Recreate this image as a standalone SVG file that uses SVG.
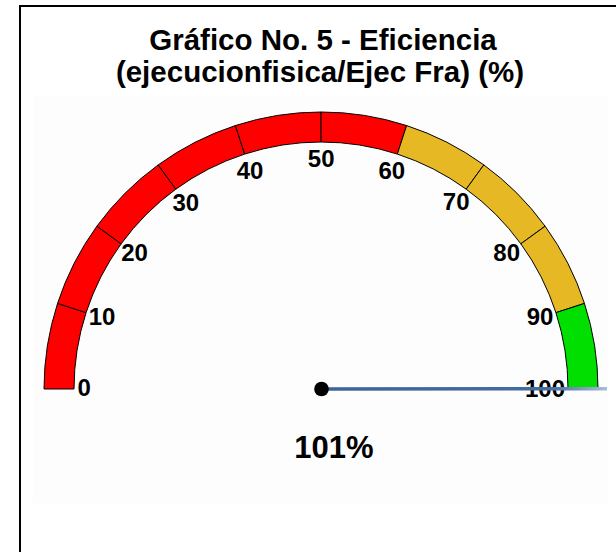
<svg xmlns="http://www.w3.org/2000/svg" width="616" height="552" viewBox="0 0 616 552">
  <style>
    .title { font-family: "Liberation Sans", Arial, sans-serif; font-weight: bold; font-size: 29.5px; fill: #000; text-anchor: middle; }
    .lbl { font-family: "Liberation Sans", Arial, sans-serif; font-weight: bold; font-size: 24px; fill: #000; text-anchor: middle; }
    .val { font-family: "Liberation Sans", Arial, sans-serif; font-weight: bold; font-size: 31px; fill: #000; text-anchor: middle; }
    .seg { stroke: #000; stroke-width: 1; stroke-linejoin: miter; }
    .red { fill: #FF0000; }
    .gold { fill: #E6B823; }
    .green { fill: #00DF00; }
  </style>
  <defs>
    <linearGradient id="needleGrad" gradientUnits="userSpaceOnUse" x1="321" y1="0" x2="607" y2="0">
      <stop offset="0" stop-color="#3C6499"/>
      <stop offset="0.8" stop-color="#446C9F"/>
      <stop offset="1" stop-color="#A9BED8"/>
    </linearGradient>
  </defs>

  <rect x="0" y="0" width="616" height="552" fill="#FFFFFF"/>
  <rect id="plot-area" x="33" y="96" width="575" height="407" fill="#FDFDFD"/>
  <rect id="frame" x="20" y="6" width="700" height="700" fill="none" stroke="#000" stroke-width="2"/>

  <g id="title">
    <text class="title" x="323" y="50">Gráfico No. 5 - Eficiencia</text>
    <text class="title" x="320" y="81.5">(ejecucionfisica/Ejec Fra) (%)</text>
  </g>

  <g id="gauge-bands">
    <path id="band-0-10" class="seg red" d="M44,389 A277,277 0 0 1 57.56,303.40 L86.09,312.67 A247,247 0 0 0 74,389 Z"/>
    <path id="band-10-20" class="seg red" d="M57.56,303.40 A277,277 0 0 1 96.90,226.18 L121.17,243.82 A247,247 0 0 0 86.09,312.67 Z"/>
    <path id="band-20-30" class="seg red" d="M96.90,226.18 A277,277 0 0 1 158.18,164.90 L175.82,189.17 A247,247 0 0 0 121.17,243.82 Z"/>
    <path id="band-30-40" class="seg red" d="M158.18,164.90 A277,277 0 0 1 235.40,125.56 L244.67,154.09 A247,247 0 0 0 175.82,189.17 Z"/>
    <path id="band-40-50" class="seg red" d="M235.40,125.56 A277,277 0 0 1 321,112 L321,142 A247,247 0 0 0 244.67,154.09 Z"/>
    <path id="band-50-60" class="seg red" d="M321,112 A277,277 0 0 1 406.60,125.56 L397.33,154.09 A247,247 0 0 0 321,142 Z"/>
    <path id="band-60-70" class="seg gold" d="M406.60,125.56 A277,277 0 0 1 483.82,164.90 L466.18,189.17 A247,247 0 0 0 397.33,154.09 Z"/>
    <path id="band-70-80" class="seg gold" d="M483.82,164.90 A277,277 0 0 1 545.10,226.18 L520.83,243.82 A247,247 0 0 0 466.18,189.17 Z"/>
    <path id="band-80-90" class="seg gold" d="M545.10,226.18 A277,277 0 0 1 584.44,303.40 L555.91,312.67 A247,247 0 0 0 520.83,243.82 Z"/>
    <path id="band-90-100" class="seg green" d="M584.44,303.40 A277,277 0 0 1 598,389 L568,389 A247,247 0 0 0 555.91,312.67 Z"/>
  </g>

  <g id="scale-labels">
    <text id="lbl-0" class="lbl" x="84.2" y="396.3">0</text>
    <text id="lbl-10" class="lbl" x="102" y="325.3">10</text>
    <text id="lbl-20" class="lbl" x="134.5" y="261.3">20</text>
    <text id="lbl-30" class="lbl" x="185.8" y="210.6">30</text>
    <text id="lbl-40" class="lbl" x="250" y="178.9">40</text>
    <text id="lbl-50" class="lbl" x="321.2" y="167.3">50</text>
    <text id="lbl-60" class="lbl" x="391.8" y="178.9">60</text>
    <text id="lbl-70" class="lbl" x="456.2" y="210.3">70</text>
    <text id="lbl-80" class="lbl" x="506.7" y="261.3">80</text>
    <text id="lbl-90" class="lbl" x="540" y="325.3">90</text>
    <text id="lbl-100" class="lbl" x="545" y="396.9">100</text>
  </g>

  <g id="connectors">
    <line id="needle" x1="321" y1="389" x2="607" y2="388.7" stroke="url(#needleGrad)" stroke-width="3.5"/>
  </g>

  <g id="hub">
    <circle cx="321.5" cy="389" r="7.3" fill="#000"/>
  </g>

  <g id="value">
    <text class="val" x="334" y="458">101%</text>
  </g>
</svg>
